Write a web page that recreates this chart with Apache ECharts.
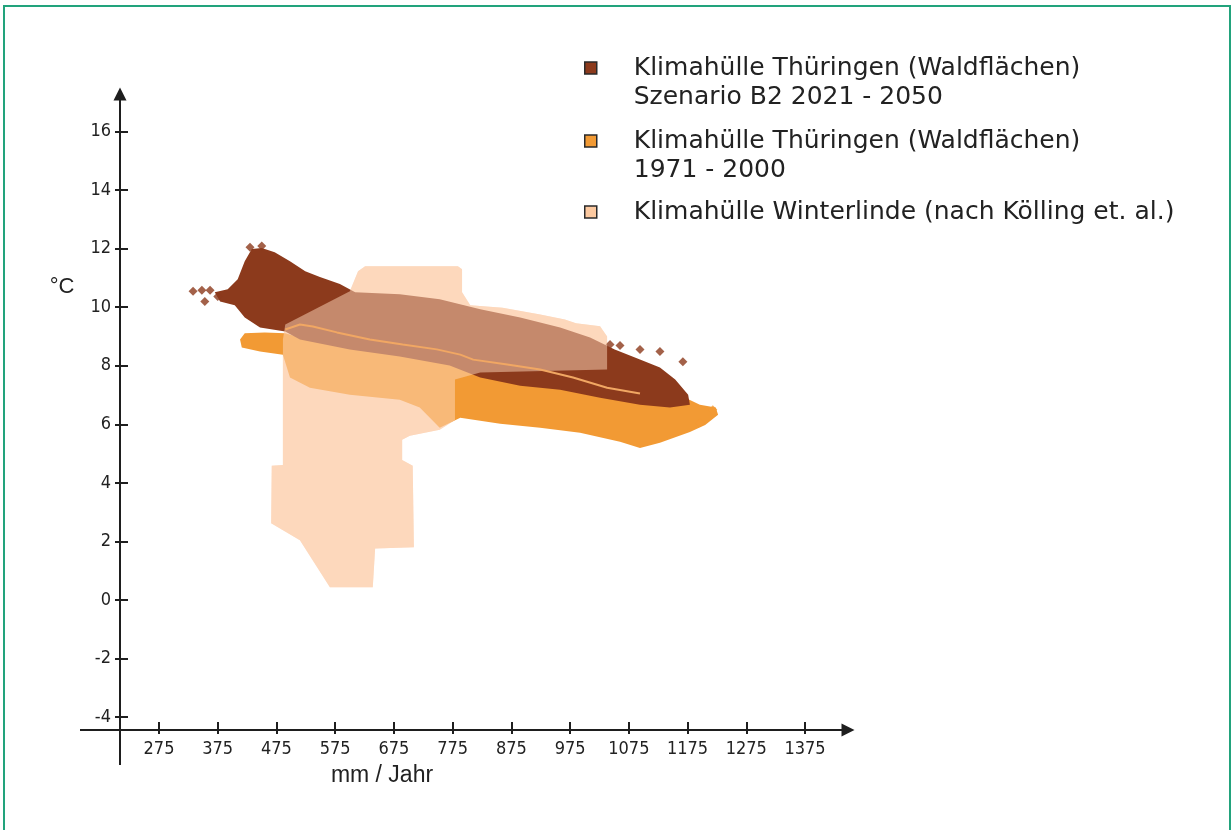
<!DOCTYPE html>
<html>
<head>
<meta charset="utf-8">
<script src="https://cdn.jsdelivr.net/npm/echarts@6/dist/echarts.min.js"></script>
<style>
html,body{margin:0;padding:0;background:#fff;}
#chart{width:1232px;height:830px;}
</style>
</head>
<body>
<div id="chart"></div>
<script>
// ---- data (x: mm / Jahr, y: °C) ----
const xTicks = [275, 375, 475, 575, 675, 775, 875, 975, 1075, 1175, 1275, 1375];
const yTicks = [-4, -2, 0, 2, 4, 6, 8, 10, 12, 14, 16];

const seriesNames = [
  'Klimahülle Thüringen (Waldflächen)\nSzenario B2 2021 - 2050',
  'Klimahülle Thüringen (Waldflächen)\n1971 - 2000',
  'Klimahülle Winterlinde (nach Kölling et. al.)'
];

// envelope of Winterlinde (outline vertices)
const winterlinde = [
  [486, 4.61], [467, 4.58], [466, 2.62], [515, 2.04], [566, 0.43], [639, 0.43],
  [643, 1.76], [709, 1.80], [707, 4.58], [689, 4.78], [689, 5.47], [702, 5.61],
  [753, 5.81], [779, 6.15], [779, 7.53], [822, 7.77], [1038, 7.87], [1038, 9.0],
  [1026, 9.35], [985, 9.45], [966, 9.58], [924, 9.75], [860, 9.98], [805, 10.07],
  [791, 10.51], [791, 11.30], [784, 11.40], [626, 11.40], [614, 11.23],
  [600, 10.55], [490, 9.41], [486, 8.90]
];

// Thüringen forest climate envelope, scenario B2 2021-2050 (outline vertices)
const b2Scenario = [
  [370, 10.51], [392, 10.61], [409, 10.96], [421, 11.57], [433, 11.99], [450, 12.02],
  [472, 11.88], [498, 11.57], [524, 11.23], [549, 11.03], [583, 10.79], [609, 10.51],
  [685, 10.44], [753, 10.27], [822, 9.93], [890, 9.65], [958, 9.31], [1009, 8.97],
  [1051, 8.56], [1094, 8.21], [1128, 7.94], [1154, 7.53], [1176, 7.01], [1179, 6.67],
  [1145, 6.57], [1094, 6.67], [1026, 6.91], [958, 7.18], [890, 7.32], [822, 7.60],
  [770, 8.01], [685, 8.32], [600, 8.56], [515, 8.90], [490, 9.17], [447, 9.31],
  [421, 9.65], [404, 10.07], [379, 10.20]
];
const b2Outliers = [
  [333, 10.55], [348, 10.58], [362, 10.58], [353, 10.20], [375, 10.37],
  [430, 12.05], [450, 12.09], [1043, 8.73], [1060, 8.69], [1094, 8.56],
  [1128, 8.49], [1167, 8.14]
];

// Thüringen forest climate envelope 1971-2000 (outline vertices)
const period7100 = [
  [413, 8.90], [421, 9.11], [455, 9.14], [490, 9.11], [515, 8.97], [600, 8.73],
  [685, 8.49], [770, 8.15], [856, 7.80], [958, 7.46], [1060, 7.18], [1128, 7.11],
  [1171, 6.91], [1196, 6.67], [1223, 6.57], [1227, 6.33], [1205, 5.98], [1179, 5.74],
  [1128, 5.37], [1094, 5.19], [1060, 5.40], [992, 5.71], [924, 5.88], [856, 6.02],
  [788, 6.22], [753, 5.88], [719, 6.57], [685, 6.84], [600, 7.01], [532, 7.25],
  [498, 7.60], [486, 8.38], [447, 8.49], [416, 8.62]
];
const period7100Outliers = [
  [1218, 6.50], [1196, 6.05]
];

// mean line
const meanLine = [
  [490, 9.24], [515, 9.41], [537, 9.34], [578, 9.14], [634, 8.90], [690, 8.73],
  [748, 8.56], [788, 8.38], [810, 8.21], [868, 8.04], [924, 7.87], [980, 7.60],
  [1038, 7.25], [1094, 7.05]
];

// ---- styling ----
const C_BROWN = '#8c3a1c';
const C_ORANGE = '#f29a34';
const C_PEACH = '#fdd8bc';
const AXIS = '#1e1e1e';
const TICK_FONT = '"Liberation Sans Narrow", "DejaVu Sans Condensed", "Liberation Sans", sans-serif';

function polygonSeries(name, points, color, opacity, z) {
  return {
    type: 'custom',
    name: name,
    data: points,
    encode: { x: 0, y: 1 },
    z: z,
    silent: true,
    itemStyle: { color: color },
    renderItem: function (params, api) {
      if (params.dataIndex !== 0) return;
      const pts = points.map(function (p) { return api.coord(p); });
      return {
        type: 'polygon',
        shape: { points: pts },
        style: { fill: color, opacity: opacity }
      };
    }
  };
}

const X_MIN = 208.6, X_MAX = 1448.2, Y_MIN = -4.444, Y_MAX = 17.285;

const chart = echarts.init(document.getElementById('chart'), null, { renderer: 'canvas' });

const option = {
  animation: false,
  backgroundColor: '#ffffff',
  grid: { left: 120, top: 94, width: 728, height: 636, containLabel: false },
  legend: {
    orient: 'vertical',
    left: 584,
    top: 24.5,
    padding: 0,
    itemWidth: 12,
    itemHeight: 12,
    itemGap: -14,
    selectedMode: false,
    icon: 'rect',
    itemStyle: { borderColor: '#2a2a2a', borderWidth: 1.5 },
    textStyle: { fontFamily: '"DejaVu Sans", Verdana, sans-serif', fontSize: 25, color: '#222', lineHeight: 29 },
    formatter: function (name) {
      return name.indexOf('\n') >= 0 ? '\n' + name : name;
    },
    data: [
      { name: seriesNames[0], itemStyle: { color: C_BROWN }, textStyle: { padding: [0, 0, 0, 32] } },
      { name: seriesNames[1], itemStyle: { color: C_ORANGE }, textStyle: { padding: [0, 0, 0, 32] } },
      { name: seriesNames[2], itemStyle: { color: '#fcc9a0' }, textStyle: { padding: [27, 0, 27, 32] } }
    ]
  },
  xAxis: [
    {
      type: 'value', min: X_MIN, max: X_MAX, position: 'bottom',
      name: 'mm / Jahr', nameLocation: 'middle', nameGap: 34,
      nameTextStyle: { fontFamily: '"Liberation Sans", Arial, sans-serif', fontSize: 23, color: '#222', padding: [0, 204, 0, 0] },
      axisLine: { show: true, onZero: false, lineStyle: { color: AXIS, width: 2 }, symbol: ['none', 'triangle'], symbolSize: [13, 13] },
      axisTick: { show: true, customValues: xTicks, length: 4, lineStyle: { color: AXIS, width: 2 } },
      axisLabel: { customValues: xTicks, margin: 10, fontFamily: TICK_FONT, fontSize: 18, color: '#222', formatter: function (v) { return String(v); } },
      splitLine: { show: false }
    },
    {
      type: 'value', min: X_MIN, max: X_MAX, position: 'bottom',
      axisLine: { show: false, onZero: false },
      axisTick: { show: true, inside: true, customValues: xTicks, length: 8, lineStyle: { color: AXIS, width: 2 } },
      axisLabel: { show: false },
      splitLine: { show: false }
    }
  ],
  yAxis: [
    {
      type: 'value', min: Y_MIN, max: Y_MAX, position: 'left',
      axisLine: { show: true, onZero: false, lineStyle: { color: AXIS, width: 2 }, symbol: ['none', 'triangle'], symbolSize: [13, 13] },
      axisTick: { show: true, customValues: yTicks, length: 5, lineStyle: { color: AXIS, width: 2 } },
      axisLabel: { customValues: yTicks, margin: 9, fontFamily: TICK_FONT, fontSize: 18, color: '#222', formatter: function (v) { return String(v); } },
      splitLine: { show: false }
    },
    {
      type: 'value', min: Y_MIN, max: Y_MAX, position: 'left',
      axisLine: { show: false, onZero: false },
      axisTick: { show: true, inside: true, customValues: yTicks, length: 8, lineStyle: { color: AXIS, width: 2 } },
      axisLabel: { show: false },
      splitLine: { show: false }
    }
  ],
  graphic: [
    { type: 'rect', silent: true, z: -10, shape: { x: 4, y: 6, width: 1226, height: 840 }, style: { fill: 'none', stroke: '#22a37c', lineWidth: 2 } },
    { type: 'line', silent: true, shape: { x1: 80, y1: 730, x2: 120, y2: 730 }, style: { stroke: AXIS, lineWidth: 2 } },
    { type: 'line', silent: true, shape: { x1: 120, y1: 730, x2: 120, y2: 765 }, style: { stroke: AXIS, lineWidth: 2 } },
    { type: 'text', silent: true, x: 62, y: 287, style: { text: '°C', fontFamily: '"Liberation Sans", Arial, sans-serif', fontSize: 22, fill: '#222', align: 'center', verticalAlign: 'middle' } }
  ],
  series: [
    polygonSeries(seriesNames[2], winterlinde, C_PEACH, 1, 1),
    polygonSeries(seriesNames[1], period7100, C_ORANGE, 1, 2),
    {
      type: 'scatter', name: seriesNames[1], data: period7100Outliers, z: 2, silent: true,
      symbol: 'diamond', symbolSize: 9, itemStyle: { color: C_ORANGE }
    },
    polygonSeries(seriesNames[0], b2Scenario, C_BROWN, 1, 3),
    {
      type: 'scatter', name: seriesNames[0], data: b2Outliers, z: 3, silent: true,
      symbol: 'diamond', symbolSize: 9, itemStyle: { color: C_BROWN }
    },
    polygonSeries(seriesNames[2], winterlinde, C_PEACH, 0.5, 4),
    {
      type: 'line', name: 'Mittelwert', data: meanLine, z: 5, silent: true,
      showSymbol: false, symbol: 'none', smooth: false,
      lineStyle: { color: '#f1a763', width: 2 }
    }
  ]
};
chart.setOption(option);
</script>
</body>
</html>
